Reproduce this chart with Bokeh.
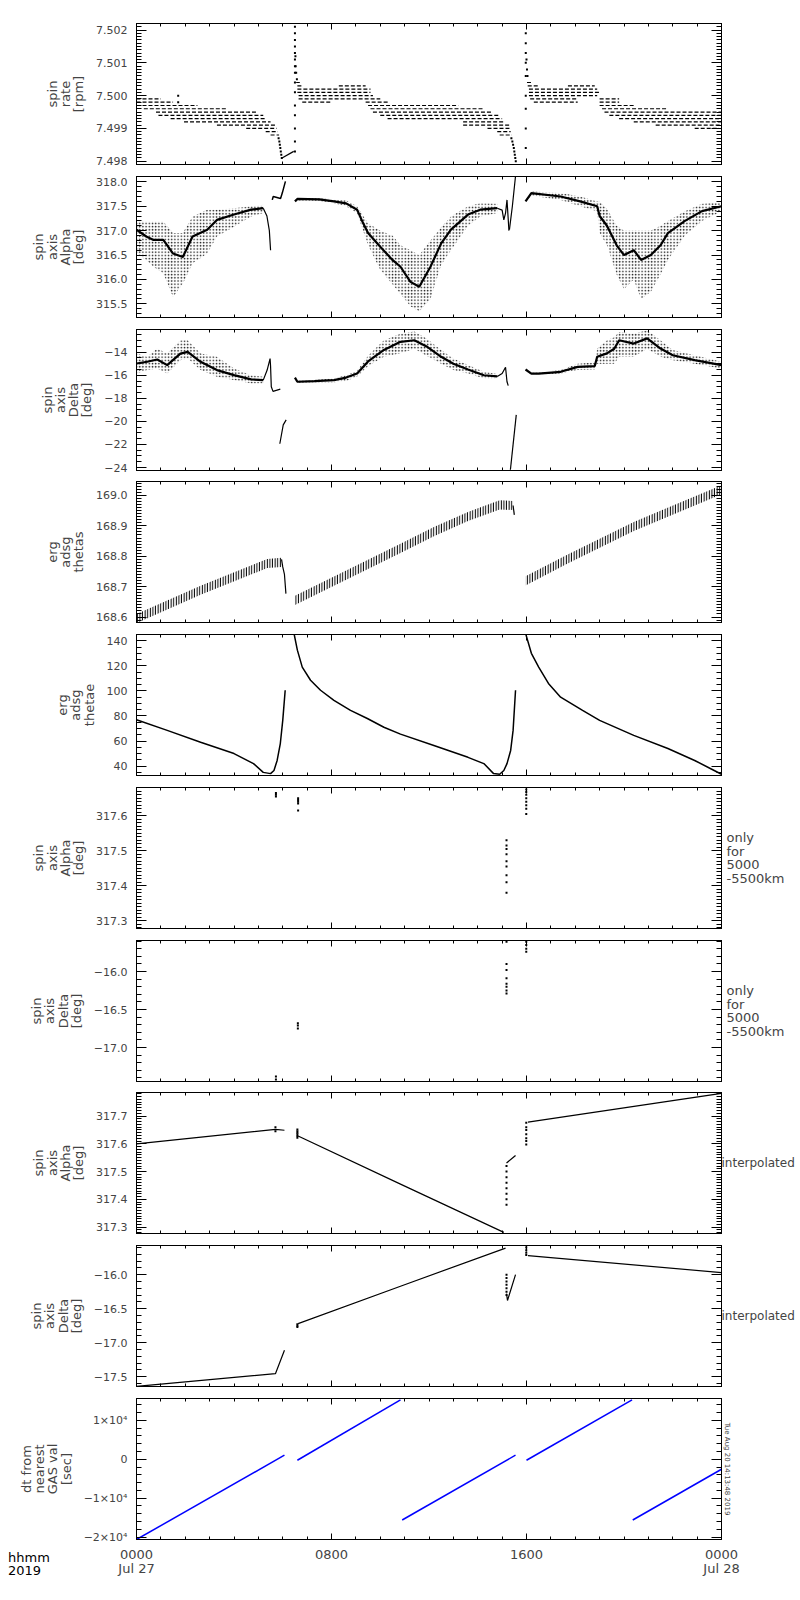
import math
from bokeh.plotting import figure
from bokeh.models import Range1d, LinearAxis, FixedTicker, CustomJSTickFormatter, Div
from bokeh.layouts import column
from bokeh.embed import file_html
from bokeh.resources import INLINE

# ---------------- data (time in hours after 0000 UT, Jul 27 2019) ----------------
# Panel 1: spin rate [rpm], quantised levels seen as dashed runs
p1_level = [7.4999, 7.4998, 7.4997, 7.4996, 7.4995, 7.4994, 7.4993, 7.4992, 7.4991, 7.4990, 7.4989, 7.4988,
            7.5004, 7.5003, 7.5003, 7.5002, 7.5001, 7.5000, 7.4999, 7.4998, 7.4998, 7.4997, 7.4996, 7.4995,
            7.4994, 7.4993, 7.4992, 7.4991, 7.4990, 7.4989, 7.4988,
            7.5004, 7.5003, 7.5003, 7.5002, 7.5001, 7.5000, 7.4999, 7.4999, 7.4998, 7.4998, 7.4997, 7.4996,
            7.4995, 7.4994, 7.4993, 7.4992, 7.4991, 7.4990]
p1_t0 = [0.0, 0.0, 0.0, 0.3, 0.8, 0.9, 1.4, 1.95, 3.3, 4.5, 5.3, 5.5,
         6.55, 6.6, 8.3, 6.6, 6.6, 6.65, 6.65, 6.8, 9.4, 9.5, 9.6, 9.7,
         10.0, 10.3, 13.4, 13.4, 14.4, 14.8, 14.9,
         16.02, 16.05, 17.7, 16.1, 16.1, 16.1, 16.15, 19.0, 16.3, 19.0, 19.0, 19.1,
         19.2, 19.4, 19.8, 20.4, 21.3, 22.9]
p1_t1 = [1.0, 1.5, 2.5, 3.7, 4.9, 5.2, 5.3, 5.5, 5.7, 5.75, 5.8, 5.85,
         6.7, 6.8, 9.4, 9.6, 9.6, 9.7, 10.0, 8.0, 10.35, 13.2, 14.2, 14.6,
         14.9, 15.0, 15.05, 15.3, 15.3, 15.35, 15.4,
         16.2, 16.5, 18.8, 18.9, 19.0, 18.9, 18.1, 19.8, 18.1, 19.8, 20.4, 21.8,
         24.0, 24.0, 24.0, 24.0, 24.0, 23.9]
p1_dot_t = [5.83, 5.86, 5.88, 5.90, 5.92, 5.94, 5.96,
            6.5, 6.5, 6.5, 6.5, 6.5, 6.5, 6.5, 6.5, 6.5, 6.5, 6.5, 6.5, 6.5, 6.5, 6.5,
            6.52, 6.53, 6.55, 6.58, 1.71, 1.71,
            15.38, 15.42, 15.45, 15.48, 15.50, 15.52, 15.54, 15.56,
            15.97, 15.97, 15.97, 15.97, 15.97, 15.97, 15.97, 15.97, 15.97,
            16.00, 16.02, 16.04]
p1_dot_v = [7.4987, 7.4986, 7.4985, 7.4984, 7.4983, 7.4982, 7.4981,
            7.4983, 7.4986, 7.4990, 7.4994, 7.4997, 7.5001, 7.5004, 7.5007, 7.5009, 7.5011, 7.5013,
            7.5015, 7.5017, 7.5019, 7.5021,
            7.5012, 7.5009, 7.5007, 7.5005, 7.5000, 7.4998,
            7.4987, 7.4986, 7.4985, 7.4984, 7.4983, 7.4982, 7.4981, 7.4980,
            7.4984, 7.4990, 7.4996, 7.5000, 7.5006, 7.5010, 7.5013, 7.5016, 7.5019,
            7.5011, 7.5008, 7.5006]
p1_line_t = [5.97, 6.45]
p1_line_v = [7.4981, 7.4983]

# Panel 2: spin axis Alpha [deg]
p2a_t = [0.0, 0.4, 0.7, 1.1, 1.5, 1.9, 2.3, 2.9, 3.3, 4.0, 4.7, 5.2]
p2a_core = [317.02, 316.88, 316.81, 316.81, 316.53, 316.46, 316.88, 317.02, 317.22, 317.33, 317.43, 317.46]
p2a_lo = [316.53, 316.40, 316.26, 316.12, 315.64, 315.91, 316.33, 316.53, 316.88, 317.08, 317.29, 317.36]
p2a_hi = [317.22, 317.19, 317.19, 317.19, 316.95, 316.95, 317.29, 317.43, 317.43, 317.46, 317.50, 317.53]
p2b_t = [5.2, 5.35, 5.45, 5.5]
p2b_v = [317.46, 317.30, 317.00, 316.60]
p2c_t = [5.57, 5.61, 5.91, 5.98, 6.11]
p2c_v = [317.63, 317.70, 317.66, 317.77, 318.01]
p2d_t = [6.5, 6.6, 7.5, 8.1, 8.6, 9.05, 9.3, 9.5, 10.0, 10.5, 10.83, 11.24, 11.6, 12.06, 12.5, 12.9, 13.6, 14.1, 14.8]
p2d_core = [317.60, 317.65, 317.64, 317.60, 317.56, 317.43, 317.15, 316.95, 316.67, 316.40, 316.26, 315.95, 315.85,
            316.26, 316.74, 317.02, 317.33, 317.43, 317.46]
p2d_lo = [317.58, 317.62, 317.61, 317.56, 317.50, 317.36, 317.00, 316.70, 316.20, 315.90, 315.70, 315.45, 315.35,
          315.60, 316.30, 316.60, 317.10, 317.29, 317.36]
p2d_hi = [317.62, 317.67, 317.67, 317.64, 317.62, 317.50, 317.30, 317.15, 317.00, 316.90, 316.70, 316.60, 316.50,
          316.80, 317.07, 317.29, 317.50, 317.56, 317.55]
p2e_t = [14.8, 15.0, 15.07, 15.14, 15.2, 15.28]
p2e_v = [317.46, 317.42, 317.22, 317.36, 317.63, 317.00]
p2f_t = [15.3, 15.42, 15.55]
p2f_v = [317.02, 317.50, 318.12]
p2g_t = [15.96, 16.2, 17.4, 18.2, 18.9, 19.0, 19.3, 19.7, 20.0, 20.4, 20.7, 21.1, 21.5, 21.8, 22.5, 23.2, 24.0]
p2g_core = [317.60, 317.77, 317.70, 317.60, 317.50, 317.30, 317.10, 316.70, 316.50, 316.60, 316.40, 316.50,
            316.70, 316.95, 317.20, 317.40, 317.50]
p2g_lo = [317.58, 317.72, 317.63, 317.50, 317.40, 316.95, 316.70, 316.10, 315.80, 316.00, 315.60, 315.75,
          316.10, 316.40, 316.90, 317.20, 317.40]
p2g_hi = [317.62, 317.80, 317.77, 317.70, 317.60, 317.60, 317.45, 317.10, 317.00, 317.00, 317.00, 317.00,
          317.10, 317.20, 317.40, 317.55, 317.60]

# Panel 3: spin axis Delta [deg]
p3a_t = [0.0, 0.44, 0.85, 1.26, 1.8, 2.1, 2.63, 3.3, 4.0, 4.7, 5.2]
p3a_core = [-14.98, -14.83, -14.63, -15.12, -14.12, -13.97, -14.83, -15.55, -15.99, -16.36, -16.42]
p3a_lo = [-15.84, -15.55, -15.41, -15.84, -14.69, -14.55, -15.55, -16.13, -16.42, -16.70, -16.70]
p3a_hi = [-14.12, -14.40, -13.68, -14.12, -12.96, -12.96, -14.12, -14.40, -15.41, -15.99, -16.13]
p3b_t = [5.2, 5.36, 5.48, 5.5, 5.53, 5.6, 5.9]
p3b_v = [-16.42, -15.55, -14.55, -15.2, -17.0, -17.4, -17.2]
p3c_t = [5.88, 6.02, 6.14]
p3c_v = [-21.94, -20.30, -19.87]
p3d_t = [6.5, 6.6, 7.3, 8.1, 8.6, 9.05, 9.5, 10.15, 10.83, 11.4, 11.9, 12.5, 13.0, 13.6, 14.25, 14.8]
p3d_core = [-16.2, -16.56, -16.5, -16.42, -16.2, -15.85, -14.8, -13.8, -13.1, -12.96, -13.5, -14.4, -15.0, -15.5, -16.0, -16.1]
p3d_lo = [-16.3, -16.65, -16.6, -16.6, -16.5, -16.1, -15.2, -14.4, -14.1, -13.7, -14.3, -15.0, -15.55, -15.84, -16.27, -16.3]
p3d_hi = [-16.1, -16.45, -16.4, -16.25, -16.0, -15.6, -14.3, -12.96, -12.4, -12.2, -12.8, -13.8, -14.55, -15.12, -15.7, -15.9]
p3e_t = [14.8, 15.0, 15.14, 15.2, 15.25]
p3e_v = [-16.1, -15.84, -15.3, -16.56, -16.9]
p3f_t = [15.34, 15.58]
p3f_v = [-24.19, -19.44]
p3g_t = [15.96, 16.2, 16.5, 17.4, 18.1, 18.8, 18.9, 19.3, 19.6, 19.8, 20.4, 20.95, 21.5, 22.0, 22.9, 24.0]
p3g_core = [-15.5, -15.85, -15.85, -15.7, -15.27, -15.2, -14.4, -14.1, -13.7, -12.96, -13.25, -12.8, -13.68, -14.26, -14.69, -15.12]
p3g_lo = [-15.6, -15.95, -15.95, -15.85, -15.55, -15.5, -15.0, -15.0, -15.0, -14.4, -14.4, -13.7, -14.4, -14.7, -15.0, -15.41]
p3g_hi = [-15.4, -15.75, -15.75, -15.55, -15.0, -14.9, -13.68, -12.96, -12.7, -12.24, -12.4, -12.1, -12.96, -13.8, -14.26, -14.83]

# Panel 4: erg adsg thetas (band centre; band half-width)
p4_half = 0.015
p4a_t = [0.0, 2.63, 5.36, 5.95]
p4a_c = [168.595, 168.688, 168.776, 168.780]
p4b_t = [5.95, 6.0, 6.07, 6.13]
p4b_v = [168.79, 168.765, 168.74, 168.677]
p4c_t = [6.5, 10.83, 12.2, 13.6, 14.9, 15.45]
p4c_c = [168.655, 168.826, 168.881, 168.931, 168.969, 168.967]
p4d_t = [15.45, 15.5]
p4d_v = [168.967, 168.936]
p4e_t = [15.96, 17.67, 20.4, 24.0]
p4e_c = [168.719, 168.790, 168.898, 169.019]

# Panel 5: erg adsg thetae
p5a_t = [0.0, 1.26, 2.63, 4.0, 4.8, 5.2, 5.5, 5.64, 5.77, 5.9, 6.0, 6.1]
p5a_v = [77.0, 68.5, 59.0, 50.0, 42.0, 35.0, 34.0, 36.5, 44.5, 58.0, 76.5, 100.5]
p5b_t = [6.46, 6.6, 6.8, 7.14, 7.55, 8.1, 8.78, 9.47, 10.15, 10.83, 12.2, 13.6, 14.25, 14.65, 14.9, 15.07,
         15.2, 15.35, 15.45, 15.55]
p5b_v = [146.0, 132.5, 119.0, 108.5, 100.5, 92.5, 84.5, 78.0, 71.0, 65.5, 56.5, 47.0, 42.0, 34.0, 33.5, 36.5,
         42.0, 52.5, 68.5, 100.5]
p5c_t = [15.96, 16.2, 16.5, 16.9, 17.4, 18.3, 19.0, 20.4, 21.8, 22.9, 23.7, 24.0]
p5c_v = [146.0, 130.0, 119.0, 106.0, 95.0, 84.5, 76.5, 64.5, 54.0, 44.5, 36.5, 33.5]

# Panel 6: spin axis Alpha, only for 5000-5500 km
p6_t = [5.72, 5.72, 5.72, 6.63, 6.63, 6.63, 6.63, 6.63,
        15.18, 15.18, 15.18, 15.18, 15.18, 15.18, 15.18, 15.18, 15.18,
        15.99, 15.99, 15.99, 15.99, 15.99, 15.99, 15.99, 15.99]
p6_v = [317.665, 317.660, 317.655, 317.650, 317.645, 317.640, 317.635, 317.615,
        317.530, 317.515, 317.505, 317.490, 317.470, 317.455, 317.430, 317.410, 317.380,
        317.675, 317.668, 317.660, 317.650, 317.640, 317.630, 317.620, 317.605]

# Panel 7: spin axis Delta, only for 5000-5500 km
p7_t = [5.72, 5.72, 6.62, 6.62, 6.62,
        15.18, 15.18, 15.18, 15.18, 15.18, 15.18, 15.18, 15.18,
        15.99, 15.99, 15.99, 15.99]
p7_v = [-17.38, -17.42, -16.68, -16.71, -16.75,
        -15.61, -15.90, -15.98, -16.09, -16.16, -16.20, -16.25, -16.29,
        -15.61, -15.65, -15.70, -15.74]

# Panel 8: spin axis Alpha, interpolated
p8a_t = [0.0, 5.7, 6.07]
p8a_v = [317.600, 317.652, 317.649]
p8b_t = [6.63, 10.83, 15.07]
p8b_v = [317.628, 317.455, 317.281]
p8c_t = [15.18, 15.55]
p8c_v = [317.531, 317.558]
p8d_t = [16.06, 24.0]
p8d_v = [317.678, 317.782]
p8_dot_t = [5.7, 5.7, 6.6, 6.6, 6.6, 6.6, 6.6, 6.6,
            15.18, 15.18, 15.18, 15.18, 15.18, 15.18, 15.18, 15.18,
            15.99, 15.99, 15.99, 15.99, 15.99, 15.99, 15.99]
p8_dot_v = [317.660, 317.645, 317.652, 317.645, 317.640, 317.635, 317.628, 317.622,
            317.381, 317.400, 317.420, 317.440, 317.460, 317.480, 317.500, 317.520,
            317.598, 317.610, 317.620, 317.635, 317.650, 317.660, 317.676]

# Panel 9: spin axis Delta, interpolated
p9a_t = [0.0, 5.7, 6.07]
p9a_v = [-17.64, -17.455, -17.11]
p9b_t = [6.63, 10.83, 15.14]
p9b_v = [-16.72, -16.17, -15.61]
p9c_t = [15.18, 15.22, 15.55]
p9c_v = [-16.28, -16.38, -16.00]
p9d_t = [16.06, 24.0]
p9d_v = [-15.72, -15.97]
p9_dot_t = [6.6, 6.6, 6.6, 15.18, 15.18, 15.18, 15.18, 15.18, 15.18, 15.18,
            15.99, 15.99, 15.99, 15.99, 15.99]
p9_dot_v = [-16.77, -16.75, -16.73, -16.00, -16.05, -16.10, -16.15, -16.20, -16.25, -16.30,
            -15.57, -15.60, -15.64, -15.68, -15.71]

# Panel 10: dt from nearest GAS val [sec]
p10_t0 = [0.0, 6.6, 10.9, 16.0, 20.36]
p10_t1 = [6.07, 10.83, 15.55, 20.33, 24.0]
p10_v0 = [-20600, -260, -15600, -260, -15600]
p10_v1 = [1030, 15250, 1030, 15250, -2570]

# time axis
x_major = [0, 8, 16, 24]
x_minor = list(range(0, 25))
x_labels = ["0000\nJul 27", "0800", "1600", "0000\nJul 28"]

FONT = "DejaVu Sans"


def tick_list(lo, hi, step):
    n0 = math.ceil(lo / step - 1e-6)
    n1 = math.floor(hi / step + 1e-6)
    return [round(k * step, 6) for k in range(n0, n1 + 1)]


def yfmt(digits):
    return CustomJSTickFormatter(code="""
        const s = tick < 0 ? '\\u2212' : '';
        return s + Math.abs(tick).toFixed(%d);
    """ % digits)


def style_axis(ax, maj_in, min_in, show):
    ax.axis_line_color = "black"
    ax.axis_line_width = 1
    ax.major_tick_in = maj_in
    ax.major_tick_out = 0
    ax.minor_tick_in = min_in
    ax.minor_tick_out = 0
    ax.major_tick_line_color = "black"
    ax.minor_tick_line_color = "black"
    ax.major_label_text_font = FONT
    if not show:
        ax.major_label_text_color = None
        ax.major_label_text_alpha = 0
        ax.major_label_text_font_size = "1px"
        ax.major_label_standoff = 0


def panel(ylo, yhi, ystep, yminor, digits, ylabel, btop, bbot, formatter=None, xlabels=False):
    p = figure(x_range=Range1d(0, 24), y_range=Range1d(ylo, yhi),
               frame_width=585, frame_height=141,
               min_border_left=136, min_border_right=60,
               min_border_top=btop, min_border_bottom=bbot,
               x_axis_location=None, y_axis_location=None,
               output_backend="svg", toolbar_location=None, tools="")
    p.xgrid.grid_line_color = None
    p.ygrid.grid_line_color = None
    p.outline_line_color = "black"
    p.outline_line_width = 1
    p.outline_line_alpha = 1
    p.background_fill_color = "white"
    p.border_fill_color = "white"
    yt = FixedTicker(ticks=tick_list(ylo, yhi, ystep), minor_ticks=tick_list(ylo, yhi, yminor))
    xt = FixedTicker(ticks=x_major, minor_ticks=x_minor)
    left = LinearAxis(ticker=yt, formatter=formatter if formatter is not None else yfmt(digits),
                      axis_label=ylabel)
    style_axis(left, 10, 5, True)
    left.major_label_text_font_size = "11px"
    left.major_label_standoff = 9
    left.axis_label_text_font = FONT
    left.axis_label_text_font_size = "13px"
    left.axis_label_text_font_style = "normal"
    left.axis_label_text_line_height = 0.88
    left.axis_label_standoff = 7
    right = LinearAxis(ticker=yt)
    style_axis(right, 10, 5, False)
    top = LinearAxis(ticker=xt)
    style_axis(top, 6, 3, False)
    bottom = LinearAxis(ticker=xt)
    style_axis(bottom, 6, 3, xlabels)
    if xlabels:
        bottom.formatter = CustomJSTickFormatter(args=dict(labs=x_labels, pos=x_major), code="""
            const i = pos.indexOf(Math.round(tick));
            return i >= 0 ? labs[i] : '';
        """)
        bottom.major_label_text_font_size = "13px"
        bottom.major_label_standoff = 7
        bottom.major_label_text_line_height = 0.95
    p.add_layout(left, "left")
    p.add_layout(right, "right")
    p.add_layout(top, "above")
    p.add_layout(bottom, "below")
    p._right_axis = right
    return p


def right_note(p, text, size, orientation="horizontal", standoff=2):
    ax = p._right_axis
    ax.axis_label = text
    ax.axis_label_text_font = FONT
    ax.axis_label_text_font_size = size
    ax.axis_label_text_font_style = "normal"
    ax.axis_label_text_line_height = 0.9
    ax.axis_label_orientation = orientation
    ax.axis_label_standoff = standoff
    ax.axis_label_text_align = "left"


def band(p, t, lo, hi, core):
    p.varea(x=t, y1=lo, y2=hi, fill_color=None, hatch_pattern=".", hatch_color="black",
            hatch_scale=3.2, hatch_weight=1.0, hatch_alpha=0.9)
    p.line(t, core, line_color="black", line_width=2.2)


def dots(p, t, v):
    p.scatter(t, v, marker="square", size=2, fill_color="black", line_color=None)


def blk(p, t, v, w=1.2):
    p.line(t, v, line_color="black", line_width=w)


# ---------------- panels ----------------
p1 = panel(7.4979, 7.5022, 0.001, 0.0001, 3, "spin\nrate\n[rpm]", 23, 6)
p1.segment(x0=p1_t0, y0=p1_level, x1=p1_t1, y1=p1_level, line_color="black", line_width=1.2, line_dash="4 2")
dots(p1, p1_dot_t, p1_dot_v)
blk(p1, p1_line_t, p1_line_v)

p2 = panel(315.22, 318.11, 0.5, 0.1, 1, "spin\naxis\nAlpha\n[deg]", 6, 6)
band(p2, p2a_t, p2a_lo, p2a_hi, p2a_core)
band(p2, p2d_t, p2d_lo, p2d_hi, p2d_core)
band(p2, p2g_t, p2g_lo, p2g_hi, p2g_core)
blk(p2, p2b_t, p2b_v)
blk(p2, p2c_t, p2c_v, 1.5)
blk(p2, p2e_t, p2e_v)
blk(p2, p2f_t, p2f_v)

p3 = panel(-24.26, -12.03, 2, 0.5, 0, "spin\naxis\nDelta\n[deg]", 6, 5)
band(p3, p3a_t, p3a_lo, p3a_hi, p3a_core)
band(p3, p3d_t, p3d_lo, p3d_hi, p3d_core)
band(p3, p3g_t, p3g_lo, p3g_hi, p3g_core)
blk(p3, p3b_t, p3b_v)
blk(p3, p3c_t, p3c_v)
blk(p3, p3e_t, p3e_v)
blk(p3, p3f_t, p3f_v)

p4 = panel(168.582, 169.046, 0.1, 0.01, 1, "erg\nadsg\nthetas", 6, 6)
for tt, cc in ((p4a_t, p4a_c), (p4c_t, p4c_c), (p4e_t, p4e_c)):
    p4.varea(x=tt, y1=[c - p4_half for c in cc], y2=[c + p4_half for c in cc], fill_color=None,
             hatch_pattern="|", hatch_color="black", hatch_scale=2.6, hatch_weight=1.4)
blk(p4, p4b_t, p4b_v)
blk(p4, p4d_t, p4d_v)

p5 = panel(32.5, 145.0, 20, 5, 0, "erg\nadsg\nthetae", 6, 6)
blk(p5, p5a_t, p5a_v, 1.5)
blk(p5, p5b_t, p5b_v, 1.5)
blk(p5, p5c_t, p5c_v, 1.5)

p6 = panel(317.278, 317.681, 0.1, 0.01, 1, "spin\naxis\nAlpha\n[deg]", 6, 6)
dots(p6, p6_t, p6_v)
right_note(p6, " only\nfor\n5000\n-5500km", "13px", standoff=5)

p7 = panel(-17.447, -15.592, 0.5, 0.1, 1, "spin\naxis\nDelta\n[deg]", 6, 5)
dots(p7, p7_t, p7_v)
right_note(p7, " only\nfor\n5000\n-5500km", "13px", standoff=5)

p8 = panel(317.277, 317.785, 0.1, 0.01, 1, "spin\naxis\nAlpha\n[deg]", 6, 6)
for tt, vv in ((p8a_t, p8a_v), (p8b_t, p8b_v), (p8c_t, p8c_v), (p8d_t, p8d_v)):
    blk(p8, tt, vv)
dots(p8, p8_dot_t, p8_dot_v)
right_note(p8, "interpolated", "12px", standoff=0)

p9 = panel(-17.643, -15.572, 0.5, 0.1, 1, "spin\naxis\nDelta\n[deg]", 6, 6)
for tt, vv in ((p9a_t, p9a_v), (p9b_t, p9b_v), (p9c_t, p9c_v), (p9d_t, p9d_v)):
    blk(p9, tt, vv)
dots(p9, p9_dot_t, p9_dot_v)
right_note(p9, "interpolated", "12px", standoff=0)

fmt10 = CustomJSTickFormatter(code="""
    if (Math.abs(tick) < 1e-6) return '0';
    const k = Math.round(tick / 1e4);
    return (k < 0 ? '\\u2212' : '') + Math.abs(k) + '\\u00d710\\u2074';
""")
p10 = panel(-20600, 15580, 10000, 2000, 0, "dt from\nnearest\nGAS val\n[sec]", 6, 0,
            formatter=fmt10, xlabels=True)
p10.segment(x0=p10_t0, y0=p10_v0, x1=p10_t1, y1=p10_v1, line_color="#0000ff", line_width=1.5)
right_note(p10, "Tue Aug 20 14:13:48 2019", "7px", orientation="parallel", standoff=1)

# year / format note at the lower left, level with the time labels
hhmm = Div(text="hhmm<br>2019", width=60, height=28, margin=(-26, 0, 0, 8),
           styles={"font-family": FONT, "font-size": "13px", "line-height": "12.5px", "color": "black"})

layout = column(p1, p2, p3, p4, p5, p6, p7, p8, p9, p10, hhmm, spacing=0)
open("out.html", "w").write(file_html(layout, INLINE))
